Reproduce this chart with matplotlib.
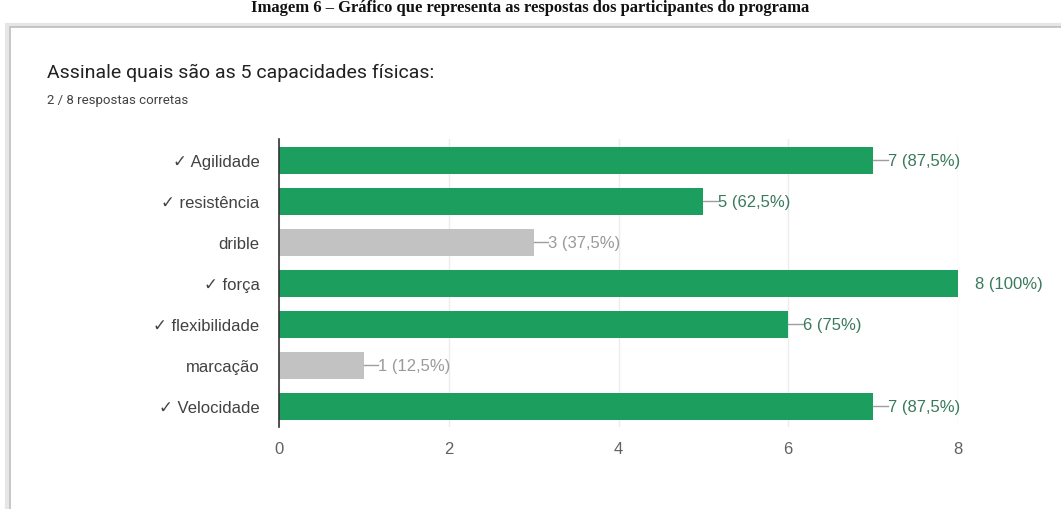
import matplotlib
matplotlib.use('Agg')
import matplotlib.pyplot as plt
from matplotlib.patches import FancyBboxPatch

# Dados
categorias = ['✓ Agilidade', '✓ resistência', 'drible', '✓ força',
              '✓ flexibilidade', 'marcação', '✓ Velocidade']
respostas = [7, 5, 3, 8, 6, 1, 7]
corretas = [True, True, False, True, True, False, True]
rotulos = ['7 (87,5%)', '5 (62,5%)', '3 (37,5%)', '8 (100%)',
           '6 (75%)', '1 (12,5%)', '7 (87,5%)']
xticks = [0, 2, 4, 6, 8]

VERDE = '#1b9e5e'
CINZA = '#c2c2c2'
FONTE_EIXO = ['Liberation Sans', 'DejaVu Sans']

plt.rcParams['font.family'] = ['Roboto', 'DejaVu Sans']

fig = plt.figure(figsize=(10.61, 5.10), dpi=100)
fig.patch.set_facecolor('white')

# legenda da página (parcialmente visível no topo)
fig.text(0.5, 1.0, 'Imagem 6 – Gráfico que representa as respostas dos participantes do programa',
         ha='center', va='top', fontsize=12, family='Liberation Serif',
         fontweight='bold', color='#111111')

# cartão
card = FancyBboxPatch((10 / 1061, -0.05), 1.1, 1 - 28 / 510 + 0.05,
                      boxstyle='square,pad=0', transform=fig.transFigure,
                      facecolor='white', edgecolor='#bdbdbd', linewidth=1.2,
                      zorder=-2)
fig.patches.append(card)
sombra = FancyBboxPatch((7 / 1061, -0.05), 1.1, 1 - 26 / 510 + 0.05,
                        boxstyle='square,pad=0', transform=fig.transFigure,
                        facecolor='none', edgecolor='#e6e6e6', linewidth=3,
                        zorder=-3)
fig.patches.append(sombra)

fig.text(47 / 1061, 1 - 73 / 510, 'Assinale quais são as 5 capacidades físicas:',
         fontsize=14, color='#212121', va='center')
fig.text(47 / 1061, 1 - 101 / 510, '2 / 8 respostas corretas',
         fontsize=9.5, color='#424242', va='center')

ax = fig.add_axes([279 / 1061, 1 - 428 / 510, (958 - 279) / 1061, (428 - 140) / 510])
ax.set_zorder(5)
y = list(range(len(categorias)))
cores = [VERDE if c else CINZA for c in corretas]
ax.barh(y, respostas, height=0.66, color=cores, zorder=2)

for yi, v, r, c in zip(y, respostas, rotulos, corretas):
    cor_txt = '#3a7a5c' if c else '#9a9a9a'
    if v < max(xticks):
        ax.plot([v, v + 0.17], [yi, yi], color='#9e9e9e', linewidth=1, zorder=3,
                clip_on=False)
        ax.text(v + 0.17, yi, r, va='center', ha='left', fontsize=12,
                color=cor_txt, clip_on=False, family=FONTE_EIXO)
    else:
        ax.text(v + 0.2, yi, r, va='center', ha='left', fontsize=12,
                color=cor_txt, clip_on=False, family=FONTE_EIXO)

ax.set_ylim(len(categorias) - 0.5, -0.52)
ax.set_xlim(0, 8)
ax.set_yticks(y)
ax.set_yticklabels(categorias, fontsize=12, color='#424242', family=FONTE_EIXO)
ax.set_xticks(xticks)
ax.set_xticklabels([str(t) for t in xticks], fontsize=12, color='#616161',
                   family=FONTE_EIXO)
ax.tick_params(axis='y', length=0, pad=14)
ax.tick_params(axis='x', length=0, pad=10)
ax.grid(axis='x', color='#ececec', linewidth=1, zorder=0)
for s in ['top', 'right', 'bottom']:
    ax.spines[s].set_visible(False)
ax.spines['left'].set_color('#333333')
ax.spines['left'].set_linewidth(1.2)
ax.set_facecolor('none')

plt.savefig('out.png', dpi=100)
plt.close()
